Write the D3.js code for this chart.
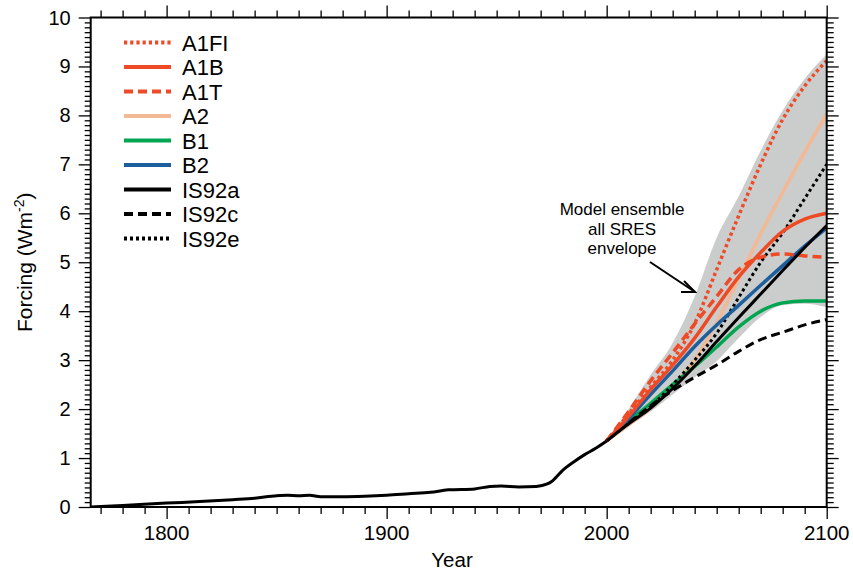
<!DOCTYPE html>
<html>
<head>
<meta charset="utf-8">
<script src="https://cdn.jsdelivr.net/npm/d3@7"></script>
<style>
  body { margin: 0; background: #fff; }
  svg { font-family: "Liberation Sans", Arial, Helvetica, sans-serif; }
</style>
</head>
<body>
<div id="chart"></div>
<script>
// historical forcing (Wm-2)
var histYears  = [1765, 1780, 1800, 1815, 1830, 1840, 1850, 1855, 1860, 1865, 1870, 1880, 1890, 1900, 1910, 1920, 1928, 1940, 1947, 1952, 1960, 1968, 1973, 1975, 1980, 1985, 1990, 1995, 2000]
var histValues = [0.00, 0.03, 0.08, 0.11, 0.15, 0.18, 0.23, 0.24, 0.23, 0.24, 0.21, 0.21, 0.22, 0.24, 0.27, 0.30, 0.35, 0.37, 0.42, 0.43, 0.41, 0.42, 0.47, 0.52, 0.75, 0.92, 1.07, 1.20, 1.35]

// scenarios 2000-2100
var scenYears = [2000, 2010, 2020, 2030, 2040, 2050, 2060, 2070, 2080, 2090, 2100]
var a1fi   = [1.35, 1.90, 2.45, 3.00, 3.75, 4.85, 5.95, 7.00, 7.92, 8.60, 9.12]
var a1b    = [1.35, 1.85, 2.40, 2.90, 3.45, 4.09, 4.70, 5.20, 5.63, 5.88, 6.00]
var a1t    = [1.35, 1.95, 2.58, 3.15, 3.74, 4.30, 4.85, 5.10, 5.17, 5.13, 5.10]
var a2     = [1.35, 1.68, 2.02, 2.45, 3.00, 3.77, 4.66, 5.58, 6.43, 7.25, 8.03]
var b1     = [1.35, 1.75, 2.12, 2.50, 2.87, 3.27, 3.68, 4.00, 4.17, 4.21, 4.21]
var b2     = [1.35, 1.80, 2.30, 2.78, 3.28, 3.72, 4.12, 4.53, 4.93, 5.33, 5.70]
var is92a  = [1.35, 1.70, 2.02, 2.42, 2.88, 3.38, 3.87, 4.35, 4.83, 5.30, 5.75]
var is92c  = [1.35, 1.72, 2.07, 2.38, 2.65, 2.90, 3.18, 3.42, 3.57, 3.72, 3.83]
var is92e  = [1.35, 1.72, 2.05, 2.50, 3.00, 3.55, 4.28, 5.00, 5.60, 6.30, 7.00]

// SRES model ensemble envelope
var envUpper = [1.35, 2.00, 2.70, 3.35, 4.30, 5.50, 6.35, 7.28, 8.10, 8.75, 9.25]
var envLower = [1.35, 1.65, 1.95, 2.30, 2.65, 2.98, 3.45, 3.88, 4.12, 4.15, 4.08]

var xTickLabels = [1800, 1900, 2000, 2100]
var yTickLabels = [0, 1, 2, 3, 4, 5, 6, 7, 8, 9, 10]
var noteLines = ["Model ensemble", "all SRES", "envelope"]

var series = [
  {name: "A1FI",   values: a1fi,  color: "#ee4a26", width: 3.5, dash: "3.2,3"},
  {name: "A1B",    values: a1b,   color: "#ee4a26", width: 3.5, dash: null},
  {name: "A1T",    values: a1t,   color: "#ee4a26", width: 3.5, dash: "9,5"},
  {name: "A2",     values: a2,    color: "#f2b994", width: 3.5, dash: null},
  {name: "B1",     values: b1,    color: "#00a551", width: 3.5, dash: null},
  {name: "B2",     values: b2,    color: "#1d5e9d", width: 3.5, dash: null},
  {name: "IS92a",  values: is92a, color: "#000000", width: 3,   dash: null},
  {name: "IS92c",  values: is92c, color: "#000000", width: 3,   dash: "9,5"},
  {name: "IS92e",  values: is92e, color: "#000000", width: 3,   dash: "3,3"}
]
var drawOrder = ["A2", "B1", "IS92c", "IS92e", "B2", "A1T", "A1FI", "A1B", "IS92a"]

var width = 853,
    height = 572
var margin = {top: 17.5, right: 26.3, bottom: 65, left: 90.7}

var svg = d3.select("#chart").append("svg")
    .attr("width", width)
    .attr("height", height)

var x = d3.scaleLinear().domain([1765.5, 2100]).range([margin.left, width - margin.right])
var y = d3.scaleLinear().domain([0, 10]).range([height - margin.bottom, margin.top])

svg.append("clipPath").attr("id", "plotclip")
  .append("rect")
    .attr("x", x.range()[0]).attr("y", y.range()[1])
    .attr("width", x.range()[1] - x.range()[0])
    .attr("height", y.range()[0] - y.range()[1])

var plot = svg.append("g").attr("clip-path", "url(#plotclip)")

// envelope
var envData = scenYears.map(function(yr, i){ return [yr, envLower[i], envUpper[i]] })
var area = d3.area()
    .x(function(d){ return x(d[0]) })
    .y0(function(d){ return y(d[1]) })
    .y1(function(d){ return y(d[2]) })
    .curve(d3.curveMonotoneX)
plot.append("path")
    .attr("d", area(envData))
    .attr("fill", "#cbcccc")

var line = d3.line()
    .x(function(d){ return x(d[0]) })
    .y(function(d){ return y(d[1]) })
    .curve(d3.curveMonotoneX)

drawOrder.forEach(function(nm){
  var s = series.find(function(d){ return d.name == nm })
  plot.append("path")
      .attr("d", line(scenYears.map(function(yr, i){ return [yr, s.values[i]] })))
      .attr("fill", "none")
      .attr("stroke", s.color)
      .attr("stroke-width", s.width)
      .attr("stroke-dasharray", s.dash)
})

// historical
plot.append("path")
    .attr("d", line(histYears.map(function(yr, i){ return [yr, histValues[i]] })))
    .attr("fill", "none")
    .attr("stroke", "#000")
    .attr("stroke-width", 3)

// axes, ticks outside on all four sides
var minorX = d3.range(1770, 2101, 10).filter(function(d){ return d % 100 != 0 })
var minorY = d3.range(0, 101).map(function(d){ return d / 10 }).filter(function(d){ return d % 1 != 0 })

function tickAxis(axisFn, scale, vals, size, pos) {
  var g = svg.append("g").attr("transform", pos)
      .call(axisFn(scale).tickValues(vals).tickSize(size).tickFormat(""))
  g.select(".domain").remove()
  g.selectAll("line").attr("stroke", "#000").attr("stroke-width", 1.3)
  return g
}
var bottomT = "translate(0," + y(0) + ")",
    topT = "translate(0," + y(10) + ")",
    leftT = "translate(" + x.range()[0] + ",0)",
    rightT = "translate(" + x.range()[1] + ",0)"

tickAxis(d3.axisBottom, x, minorX, 7, bottomT)
tickAxis(d3.axisBottom, x, xTickLabels, 12, bottomT)
tickAxis(d3.axisTop, x, minorX, 7, topT)
tickAxis(d3.axisTop, x, xTickLabels, 12, topT)
tickAxis(d3.axisLeft, y, minorY, 6, leftT)
tickAxis(d3.axisLeft, y, yTickLabels, 12, leftT)
tickAxis(d3.axisRight, y, minorY, 7, rightT)
tickAxis(d3.axisRight, y, yTickLabels, 12, rightT)

svg.append("rect")
    .attr("x", x.range()[0]).attr("y", y.range()[1])
    .attr("width", x.range()[1] - x.range()[0])
    .attr("height", y.range()[0] - y.range()[1])
    .attr("fill", "none")
    .attr("stroke", "#000")
    .attr("stroke-width", 2)

// tick labels
svg.selectAll(".xlab").data(xTickLabels).enter().append("text")
    .attr("x", function(d){ return x(d) })
    .attr("y", y(0) + 33)
    .attr("text-anchor", "middle")
    .attr("font-size", 20.5)
    .text(function(d){ return d })

svg.selectAll(".ylab").data(yTickLabels).enter().append("text")
    .attr("x", x.range()[0] - 20)
    .attr("y", function(d){ return y(d) + 7 })
    .attr("text-anchor", "end")
    .attr("font-size", 20)
    .text(function(d){ return d })

svg.append("text")
    .attr("x", 452)
    .attr("y", 567)
    .attr("text-anchor", "middle")
    .attr("font-size", 20.5)
    .text("Year")

var ylab = svg.append("text")
    .attr("transform", "translate(32," + (y(0) + y(10)) / 2 + ") rotate(-90)")
    .attr("text-anchor", "middle")
    .attr("font-size", 21)
ylab.append("tspan").text("Forcing (Wm")
ylab.append("tspan").attr("dy", -8).attr("font-size", 14).text("-2")
ylab.append("tspan").attr("dy", 8).text(")")

// legend
var legend = svg.append("g").attr("transform", "translate(124,42.5)")
var rows = legend.selectAll("g").data(series).enter().append("g")
    .attr("transform", function(d, i){ return "translate(0," + (i * 24.5) + ")" })
rows.append("line")
    .attr("x1", 0).attr("x2", 47)
    .attr("stroke", function(d){ return d.color })
    .attr("stroke-width", 4)
    .attr("stroke-dasharray", function(d){ return d.dash })
rows.append("text")
    .attr("x", 58)
    .attr("y", 8)
    .attr("font-size", 22)
    .text(function(d){ return d.name })

// annotation, one text per line
svg.selectAll(".note").data(noteLines).enter().append("text")
    .attr("class", "note")
    .attr("x", 622)
    .attr("y", function(d, i){ return 215 + i * 19.5 })
    .attr("text-anchor", "middle")
    .attr("font-size", 17)
    .text(function(d){ return d })

var tip = [695, 292]
svg.append("path")
    .attr("d", "M650,262L" + tip[0] + "," + tip[1])
    .attr("stroke", "#000").attr("stroke-width", 2).attr("fill", "none")
svg.append("path")
    .attr("d", "M684,281L" + tip[0] + "," + tip[1] + "L681,292")
    .attr("stroke", "#000").attr("stroke-width", 2).attr("fill", "none")
</script>
</body>
</html>
